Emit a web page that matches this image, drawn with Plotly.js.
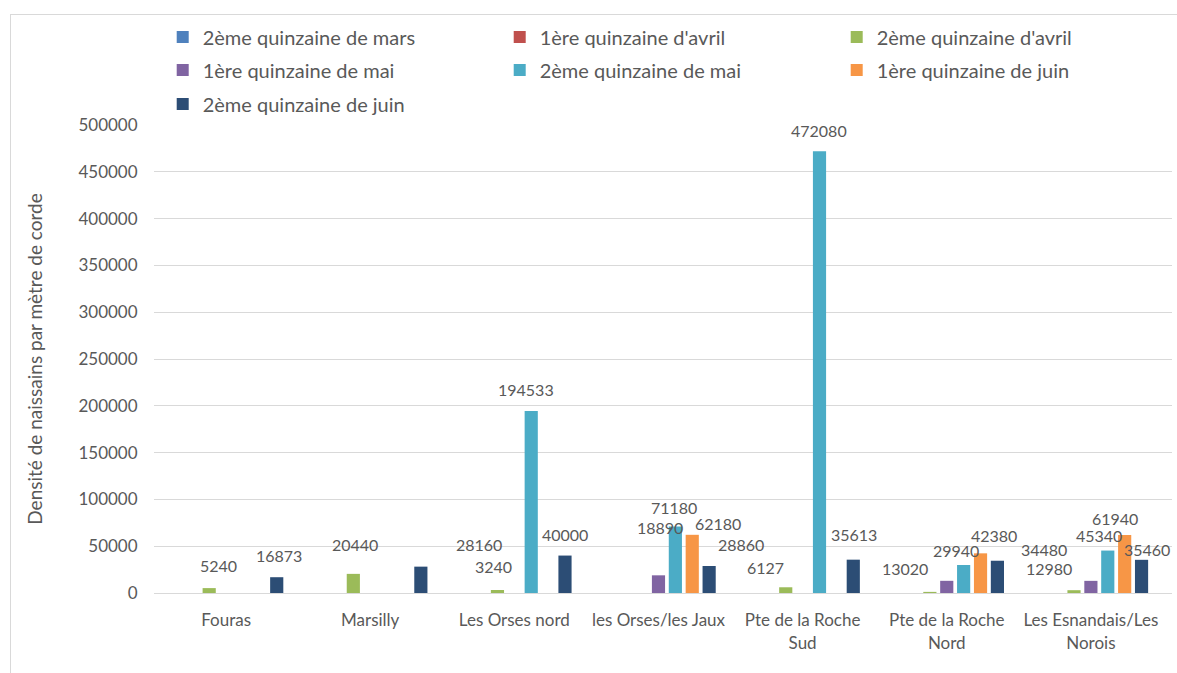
<!DOCTYPE html>
<html>
<head>
<meta charset="utf-8">
<script src="https://cdn.plot.ly/plotly-3.0.1.min.js"></script>
<style>
  body { margin: 0; background: #fff; }
  #chart {
    position: absolute; left: 10px; top: 14px;
    width: 1167px; height: 659px;
    border-left: 1px solid #d9d9d9; border-top: 1px solid #d9d9d9;
  }
</style>
</head>
<body>
<div id="chart"></div>
<script>
// sites (x axis)
const sites = ["Fouras", "Marsilly", "Les Orses nord", "les Orses/les Jaux",
  "Pte de la Roche<br>Sud", "Pte de la Roche<br>Nord", "Les Esnandais/Les<br>Norois"];

// one array per fortnight
const marsQ2 = [null, null, null, null, null, null, null];
const avrilQ1 = [null, null, null, null, null, null, null];
const avrilQ2 = [5240, 20440, 3240, null, 6127, 1200, 3000];
const maiQ1 = [null, null, null, 18890, null, 13020, 12980];
const maiQ2 = [null, null, 194533, 71180, 472080, 29940, 45340];
const juinQ1 = [null, null, null, 62180, null, 42380, 61940];
const juinQ2 = [16873, 28160, 40000, 28860, 35613, 34480, 35460];

const seriesNames = ["2ème quinzaine de mars", "1ère quinzaine d'avril", "2ème quinzaine d'avril",
  "1ère quinzaine de mai", "2ème quinzaine de mai", "1ère quinzaine de juin", "2ème quinzaine de juin"];
const seriesValues = [marsQ2, avrilQ1, avrilQ2, maiQ1, maiQ2, juinQ1, juinQ2];
const colors = ["#4F81BD", "#C0504D", "#9BBB59", "#8064A2", "#4BACC6", "#F79646", "#2C4D75"];

// where each data label sits relative to its bar top ([dx, up] in px, null = no label)
const labelOffsets = [
  [null, null, null, null, null, null, null],
  [null, null, null, null, null, null, null],
  [[9, 23], [2, 29], [-4, 23], null, [-20, 20], null, null],
  [null, null, null, [2, 48], null, [-42, 12], [-42, 12]],
  [null, null, [-5, 21], [-2, 19], [-1, 21], [-8, 14], [-9, 15]],
  [null, null, null, [25, 11], null, [13, 18], [-10, 17]],
  [[2, 22], [58, 22], [0, 21], [31, 21], [0, 25], [46, 11], [5, 10]]
];

const font = "Lato, 'Open Sans', sans-serif";
const textColor = "#595959";
const legendIds = ["legend", "legend", "legend", "legend2", "legend2", "legend2", "legend3"];

const traces = seriesNames.map((name, i) => ({
  type: "bar",
  name: name,
  x: sites,
  y: seriesValues[i],
  marker: { color: colors[i] },
  legend: legendIds[i],
  hoverinfo: "x+y+name"
}));

const slotPx = (1018 / sites.length) * (1 - 0.18) / seriesNames.length;
const annotations = [];
seriesValues.forEach((vals, s) => {
  vals.forEach((v, c) => {
    const off = labelOffsets[s][c];
    if (v === null || !off) return;
    annotations.push({
      x: sites[c], y: v, xref: "x", yref: "y",
      text: String(v), showarrow: false,
      xanchor: "center", yanchor: "middle",
      xshift: (s - 3) * slotPx + off[0], yshift: off[1],
      font: { family: font, size: 16, color: textColor }
    });
  });
});

const legendBase = {
  orientation: "h", xref: "container", yref: "container",
  xanchor: "left", yanchor: "middle",
  entrywidth: 292, entrywidthmode: "pixels",
  font: { family: font, size: 20, color: textColor },
  bgcolor: "rgba(0,0,0,0)", traceorder: "normal"
};

const layout = {
  width: 1167, height: 659,
  margin: { l: 143, r: 6, t: 110, b: 81 },
  paper_bgcolor: "#fff", plot_bgcolor: "#fff",
  barmode: "group", bargap: 0.18, bargroupgap: 0.22,
  showlegend: true,
  legend: Object.assign({}, legendBase, { x: 0.13, y: 0.9666 }),
  legend2: Object.assign({}, legendBase, { x: 0.13, y: 0.9165 }),
  legend3: Object.assign({}, legendBase, { x: 0.13, y: 0.865 }),
  xaxis: {
    type: "category",
    tickfont: { family: font, size: 17, color: textColor },
    showgrid: false, showline: false,
    ticks: "outside", ticklen: 12, tickcolor: "rgba(0,0,0,0)"
  },
  yaxis: {
    range: [0, 500000], dtick: 50000,
    tickformat: "d",
    gridcolor: "#d9d9d9", gridwidth: 1,
    zeroline: true, zerolinecolor: "#d9d9d9",
    tickfont: { family: font, size: 17, color: textColor },
    ticks: "outside", ticklen: 12, tickcolor: "rgba(0,0,0,0)",
    title: { text: "Densité de naissains par mètre de corde", standoff: 30,
      font: { family: font, size: 19, color: textColor } }
  },
  annotations: annotations
};

Plotly.newPlot("chart", traces, layout, { displayModeBar: false, staticPlot: true });
</script>
</body>
</html>
